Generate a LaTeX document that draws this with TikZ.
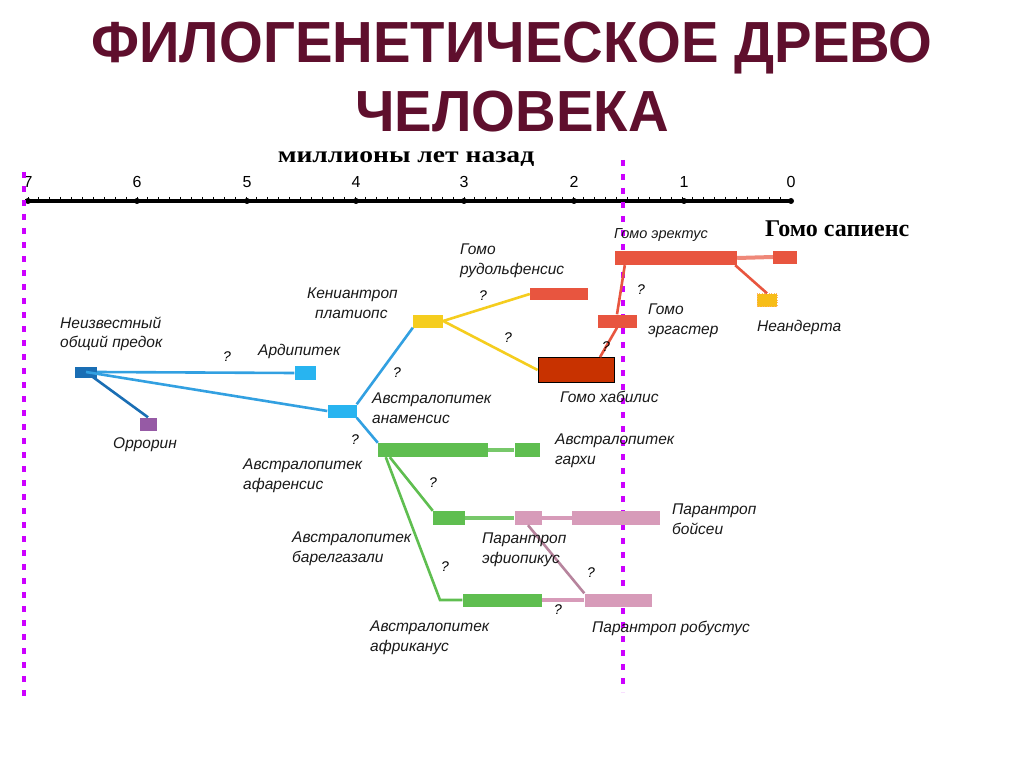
\documentclass[tikz,border=0pt]{standalone}
\usepackage{fontspec}
\setmainfont{Liberation Sans}
\newfontfamily\serifb{Liberation Serif}
\begin{document}
\begin{tikzpicture}[x=1pt,y=-1pt,
 lbl/.style={font=\fontsize{15.5}{19.5}\selectfont\itshape, text=black!90, align=left, anchor=west, inner sep=0},
 bx/.style={draw=none, inner sep=0, minimum width=#1},
 bx/.default=20,
 q/.style={font=\fontsize{14}{16}\selectfont\itshape, inner sep=0},
 br/.style={line width=2.6pt},
 thin/.style={line width=4pt},
 purp/.style={draw={rgb,255:red,204;green,0;blue,255}, line width=4.5pt, dash pattern=on 6pt off 8pt}]
\definecolor{dblue}{RGB}{26,110,180}
\definecolor{lblue}{RGB}{40,180,240}
\definecolor{lnblue}{RGB}{50,160,225}
\definecolor{purc}{RGB}{150,90,165}
\definecolor{yel}{RGB}{245,205,30}
\definecolor{redc}{RGB}{232,85,63}
\definecolor{dred}{RGB}{200,50,0}
\definecolor{grn}{RGB}{95,190,80}
\definecolor{pnk}{RGB}{215,155,185}
\definecolor{ttl}{RGB}{95,15,45}
\useasboundingbox (0,0) rectangle (1024,767);
\fill[white] (0,0) rectangle (1024,767);
% title
\node[font=\fontsize{58}{64}\selectfont\bfseries, text=ttl, xscale=0.97] (t1) at (512,48) {ФИЛОГЕНЕТИЧЕСКОЕ ДРЕВО};
\node[font=\fontsize{58}{64}\selectfont\bfseries, text=ttl, xscale=0.97] (t2) at (512,112) {ЧЕЛОВЕКА};
% axis
\node[font=\serifb\fontsize{23}{26}\selectfont\bfseries, xscale=1.2] (ax) at (406,159) {миллионы лет назад};
\draw[line width=4pt] (25,201) -- (793,201);
\foreach \i in {0,...,69}{\draw[line width=1pt] ({28+\i*10.9},197) -- ({28+\i*10.9},201);}
\foreach \v/\x in {7/28,6/137,5/247,4/356,3/464,2/574,1/684,0/791}{
 \node[font=\fontsize{16}{18}\selectfont] (tk\v) at (\x,182) {\v};
 \fill (\x,201) circle (3);}
% purple lines
\draw[purp] (24,172) -- (24,697);
\draw[purp] (623,160) -- (623,692);
% boxes
\node[bx=22, minimum height=11, fill=dblue] (anc) at (86,372) {};
\node[bx=21, minimum height=14, fill=lblue] (ard) at (305,373) {};
\node[bx=17, minimum height=13, fill=purc] (orr) at (148,424) {};
\node[bx=29, minimum height=13, fill=lblue] (ana) at (342,411) {};
\node[bx=30, minimum height=13, fill=yel] (ken) at (428,321) {};
\node[bx=58, minimum height=12, fill=redc] (rud) at (559,294) {};
\node[bx=76, minimum height=25, fill=dred, draw=black, line width=0.8pt] (hab) at (576,370) {};
\node[bx=39, minimum height=13, fill=redc] (erg) at (617,321) {};
\node[bx=122, minimum height=14, fill=redc] (ere) at (676,258) {};
\node[bx=24, minimum height=13, fill=redc] (sap) at (785,257) {};
\node[bx=20, minimum height=13, fill=yel!80!orange, draw=orange!60, dotted] (nea) at (767,300) {};
\node[bx=110, minimum height=14, fill=grn] (afa) at (433,450) {};
\node[bx=25, minimum height=14, fill=grn] (gar) at (527,450) {};
\node[bx=32, minimum height=14, fill=grn] (bar) at (449,518) {};
\node[bx=27, minimum height=14, fill=pnk] (aet) at (528,518) {};
\node[bx=88, minimum height=14, fill=pnk] (boi) at (616,518) {};
\node[bx=79, minimum height=13, fill=grn] (afr) at (502,600) {};
\node[bx=67, minimum height=13, fill=pnk] (rob) at (618,600) {};
\coordinate (afrc) at (440,600);
% connectors
\draw[br, lnblue] (anc.east) -- (ard.west);
\draw[br, dblue] (anc.center) -- (orr.north);
\draw[br, lnblue] (anc.center) -- (ana.west);
\draw[br, lnblue] (ana.north east) -- (ken.south west);
\draw[br, lnblue] (ana.south east) -- (afa.north west);
\draw[br, yel] (ken.east) -- (rud.west);
\draw[br, yel] (ken.east) -- (hab.west);
\draw[br, redc] (hab.north) ++(24,0) -- (erg.south);
\draw[br, redc] (erg.north) -- ([xshift=10]ere.south west);
\draw[thin, redc!70] (ere.east) -- (sap.west);
\draw[br, redc] ([xshift=-2]ere.south east) -- (nea.north);
\draw[thin, grn!85] (afa.east) -- (gar.west);
\draw[br, grn] ([xshift=12]afa.south west) -- (bar.north west);
\draw[br, grn] ([xshift=8]afa.south west) -- (afrc) -- (afr.west);
\draw[thin, grn!85] (bar.east) -- (aet.west);
\draw[thin, pnk] (aet.east) -- (boi.west);
\draw[thin, pnk] (afr.east) -- (rob.west);
\draw[br, pnk!85!black] (aet.south) -- (rob.north west);
% question marks
\foreach \x/\y [count=\k] in {227/357,483/296,508/338,397/373,355/440,433/483,445/567,558/610,591/573,641/290,606/347}
 \node[q] (q\k) at (\x,\y) {?};
% labels
\node[lbl] (l1) at (60,334) {Неизвестный\\общий предок};
\node[lbl] (l2) at (258,351) {Ардипитек};
\node[lbl] (l3) at (113,445) {Оррорин};
\node[lbl] (l4) at (307,303) {Кениантроп\\\hspace*{8pt}платиопс};
\node[lbl] (l5) at (460,261) {Гомо\\рудольфенсис};
\node[lbl] (l6) at (372,408) {Австралопитек\\анаменсис};
\node[lbl] (l7) at (560,397) {Гомо хабилис};
\node[lbl, font=\fontsize{14.5}{17}\selectfont\itshape] (l8) at (614,235) {Гомо эректус};
\node[lbl] (l9) at (648,321) {Гомо\\эргастер};
\node[lbl] (l10) at (757,327) {Неандерта};
\node[lbl] (l11) at (555,451) {Австралопитек\\гархи};
\node[lbl] (l12) at (243,476) {Австралопитек\\афаренсис};
\node[lbl] (l13) at (292,549) {Австралопитек\\барелгазали};
\node[lbl] (l14) at (482,550) {Парантроп\\эфиопикус};
\node[lbl] (l15) at (672,519) {Парантроп\\бойсеи};
\node[lbl] (l16) at (370,638) {Австралопитек\\африканус};
\node[lbl] (l17) at (592,628) {Парантроп робустус};
\node[anchor=west, inner sep=0, font=\serifb\fontsize{24}{26}\selectfont\bfseries] (l18) at (765,229) {Гомо сапиенс};
\end{tikzpicture}
\end{document}
